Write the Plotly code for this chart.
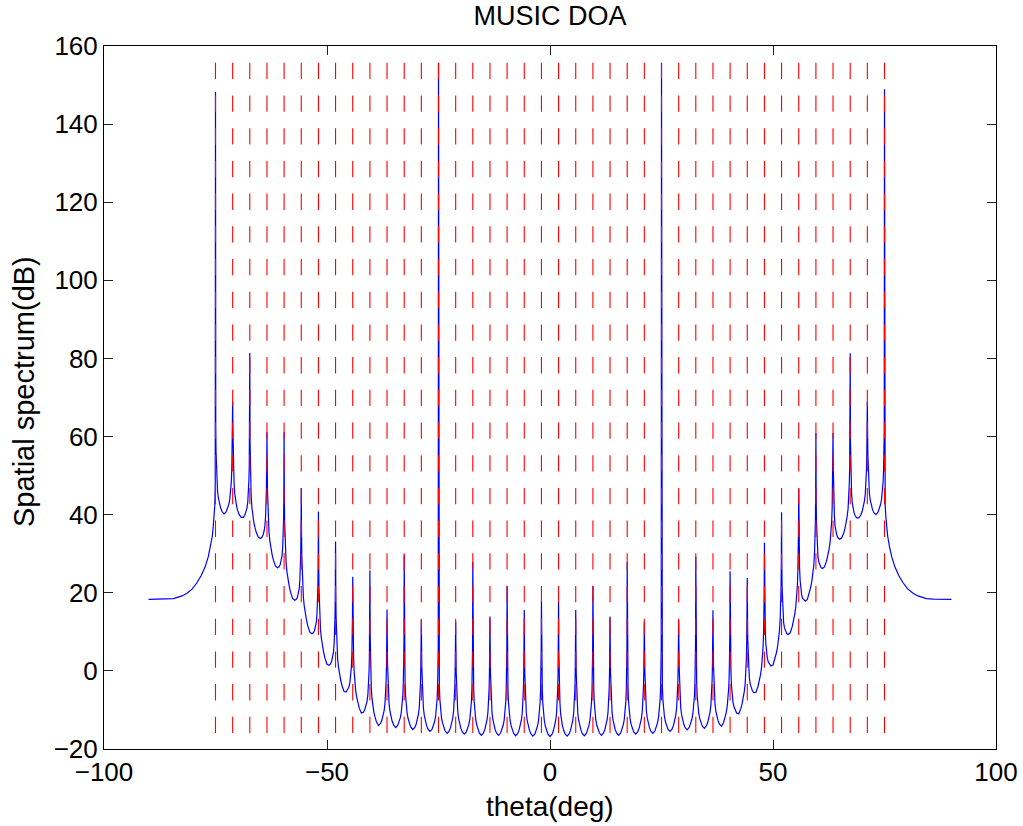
import numpy as np
import plotly.graph_objects as go

# ---------------- data ----------------
# directions of arrival (red dashed markers), degrees
doa_deg = [-75.00, -71.15, -67.31, -63.46, -59.62, -55.77, -51.92, -48.08, -44.23, -40.38,
           -36.54, -32.69, -28.85, -25.00, -21.15, -17.31, -13.46, -9.62, -5.77, -1.92,
           1.92, 5.77, 9.62, 13.46, 17.31, 21.15, 25.00, 28.85, 32.69, 36.54,
           40.38, 44.23, 48.08, 51.92, 55.77, 59.62, 63.46, 67.31, 71.15, 75.00]

# spectrum value at each peak (dB)
peak_db = [148.2, 69.0, 81.4, 61.1, 61.1, 46.8, 40.8, 33.1, 24.1, 25.7,
           15.7, 29.7, 13.1, 155.7, 12.6, 27.9, 13.9, 21.8, 15.6, 17.9,
           17.9, 15.6, 21.8, 13.9, 27.9, 12.6, 155.7, 12.9, 29.3, 15.5,
           25.5, 23.8, 32.9, 40.6, 46.7, 60.9, 60.9, 81.3, 68.9, 148.9]

# lowest value of the spectrum between two neighbouring peaks (dB)
trough_db = [40.2, 39.3, 34.2, 26.8, 18.5, 9.9, 1.7, -5.3, -10.8, -14.0,
             -14.5, -15.0, -15.5, -16.0, -16.2, -16.5, -16.5, -16.6, -16.7, -16.8,
             -16.7, -16.6, -16.5, -16.5, -16.2, -16.0, -15.5, -15.1, -14.7, -14.2,
             -11.0, -5.5, 1.5, 9.7, 18.3, 26.6, 34.0, 39.2, 40.0]

# shape of one lobe: fraction of the peak gap -> dB above the floor
lobe_frac = [0.015, 0.03, 0.05, 0.08, 0.12, 0.17, 0.23, 0.30, 0.38, 0.50]
lobe_rise_db = [22.0, 16.0, 12.0, 8.5, 5.8, 4.0, 2.6, 1.5, 0.6, 0.0]

# outer tails of the spectrum
left_tail_deg = [-90.0, -86.0, -84.4, -82.5, -81.4, -80.2, -79.2, -78.2, -77.3, -76.6,
                 -76.1, -75.7, -75.5, -75.3, -75.15, -75.06]
left_tail_db = [18.3, 18.35, 18.5, 19.2, 19.9, 21.0, 22.5, 24.4, 26.7, 29.3,
                31.9, 34.6, 37.0, 39.5, 42.5, 48.0]
right_tail_deg = [75.06, 75.15, 75.3, 75.5, 75.7, 76.1, 76.6, 77.3, 78.2, 79.2,
                  80.2, 81.4, 82.5, 84.4, 86.0, 90.0]
right_tail_db = [48.0, 42.5, 39.5, 37.0, 34.6, 31.9, 29.3, 26.7, 24.4, 22.5,
                 21.0, 19.9, 19.2, 18.5, 18.35, 18.3]

x_ticks = [-100, -50, 0, 50, 100]
y_ticks = [-20, 0, 20, 40, 60, 80, 100, 120, 140, 160]

# ---------------- build the blue spectrum from the readings ----------------
doa = np.array(doa_deg)
mids = (doa[:-1] + doa[1:]) / 2.0
xs, ys = list(left_tail_deg), list(left_tail_db)
for k in range(len(doa)):
    xs.append(doa[k]); ys.append(peak_db[k])
    if k == len(doa) - 1:
        break
    gap = doa[k + 1] - doa[k]
    fr = list(lobe_frac) + [1 - f for f in reversed(lobe_frac[:-1])]
    rs = list(lobe_rise_db) + list(reversed(lobe_rise_db[:-1]))
    for f, r in zip(fr, rs):
        xv = doa[k] + f * gap
        xs.append(xv)
        ys.append(float(np.interp(xv, mids, trough_db)) + r)
xs += right_tail_deg
ys += right_tail_db

fig = go.Figure()
fig.add_trace(go.Scatter(x=xs, y=ys, mode="lines",
                         line=dict(color="#0000ff", width=1.2), showlegend=False,
                         hoverinfo="skip"))

y_top = max(peak_db)
y_bot = min(trough_db)
for d in doa_deg:
    fig.add_trace(go.Scatter(x=[d, d], y=[y_top, y_bot], mode="lines",
                             line=dict(color="#ff0000", width=1.1, dash="16.3px,16.4px"),
                             showlegend=False, hoverinfo="skip"))

FONT = "Liberation Sans, Arial, Helvetica, sans-serif"
W, H = 1023, 826
X0, X1, Y0, Y1 = 104, 996, 46, 749          # plot box in page pixels
L, T, R, B = X0, Y0, W - X1, H - Y1
pw, ph = X1 - X0, Y1 - Y0

axis_common = dict(showline=True, linecolor="black", linewidth=1, mirror="ticks",
                   ticks="inside", ticklen=9, tickwidth=1, tickcolor="#222",
                   showgrid=False, zeroline=False, automargin=False,
                   tickfont=dict(family=FONT, size=26, color="black"))

fig.update_layout(
    template="none",
    width=W, height=H, autosize=False,
    margin=dict(l=L, r=R, t=T, b=B, pad=0, autoexpand=False),
    paper_bgcolor="white", plot_bgcolor="white",
    font=dict(family=FONT, color="black"),
    title=dict(text="MUSIC DOA", x=0.5, xanchor="center", xref="paper",
               y=1 - 16 / H, yref="container", yanchor="middle",
               font=dict(family=FONT, size=27, color="black")),
    xaxis=dict(range=[-100, 100], tickvals=x_ticks, **axis_common),
    yaxis=dict(range=[-20, 160], tickvals=y_ticks, **axis_common),
    annotations=[
        dict(text="theta(deg)", xref="paper", yref="paper", x=0.5, y=(Y1 - 806) / ph,
             xanchor="center", yanchor="middle", showarrow=False,
             font=dict(family=FONT, size=28, color="black")),
        dict(text="Spatial spectrum(dB)", xref="paper", yref="paper",
             x=(24 - X0) / pw, y=(Y1 - 392) / ph, textangle=-90,
             xanchor="center", yanchor="middle", showarrow=False,
             font=dict(family=FONT, size=29, color="black")),
    ],
)

fig.write_html(
    "out.html",
    config={"displayModeBar": False},
    post_script="document.body.style.margin='0';document.body.style.overflow='hidden';",
)
